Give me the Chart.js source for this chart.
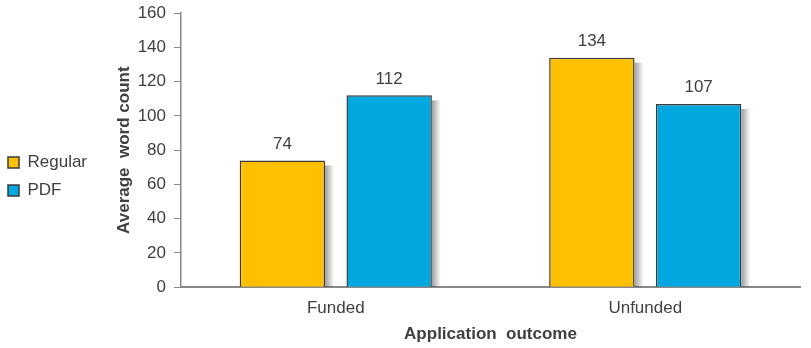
<!DOCTYPE html>
<html>
<head>
<meta charset="utf-8">
<script src="https://cdn.jsdelivr.net/npm/chart.js@4"></script>
<style>
  html, body { margin: 0; padding: 0; background: #fff; }
  #wrap { width: 811px; height: 348px; }
</style>
</head>
<body>
<div id="wrap"><canvas id="chart" width="811" height="348"></canvas></div>
<script>
const outcomes = ["Funded", "Unfunded"];
const regular = [74, 134];
const pdf = [112, 107];
const yTicks = [0, 20, 40, 60, 80, 100, 120, 140, 160];

const textColor = "#404040";
const fontFamily = "'Liberation Sans', Arial, sans-serif";

// soft shadow on the right side of the bars, drawn under them
const barShadow = {
    id: "barShadow",
    beforeDatasetsDraw(chart) {
        const ctx = chart.ctx;
        ctx.save();
        chart.data.datasets.forEach((ds, i) => {
            chart.getDatasetMeta(i).data.forEach(bar => {
                const right = bar.x + bar.width / 2;
                const g = ctx.createLinearGradient(right, 0, right + 9, 0);
                g.addColorStop(0, "rgba(0,0,0,0.38)");
                g.addColorStop(1, "rgba(0,0,0,0)");
                ctx.fillStyle = g;
                ctx.fillRect(right, bar.y + 5, 9, bar.base - bar.y - 5);
            });
        });
        ctx.restore();
    }
};

// values above the bars
const valueLabels = {
    id: "valueLabels",
    afterDatasetsDraw(chart) {
        const ctx = chart.ctx;
        ctx.save();
        ctx.font = "17px " + fontFamily;
        ctx.fillStyle = textColor;
        ctx.textAlign = "center";
        ctx.textBaseline = "bottom";
        chart.data.datasets.forEach((ds, i) => {
            chart.getDatasetMeta(i).data.forEach((bar, j) => {
                ctx.fillText(ds.data[j], bar.x, bar.y - 8);
            });
        });
        ctx.restore();
    }
};

new Chart(document.getElementById("chart").getContext("2d"), {
    type: "bar",
    data: {
        labels: outcomes,
        datasets: [{
            label: "Regular",
            data: regular,
            backgroundColor: "#FFC000",
            borderColor: "#3a3a3a",
            borderWidth: 1.5,
        }, {
            label: "PDF",
            data: pdf,
            backgroundColor: "#00A8E0",
            borderColor: "#3a3a3a",
            borderWidth: 1.5,
        }],
    },
    options: {
        responsive: false,
        animation: false,
        layout: { autoPadding: false, padding: { top: 13, right: 11, left: -3, bottom: 8 } },
        datasets: { bar: { categoryPercentage: 0.69, barPercentage: 0.8 } },
        plugins: {
            legend: {
                position: "left",
                labels: {
                    boxWidth: 11,
                    boxHeight: 11,
                    padding: 11,
                    color: textColor,
                    font: { family: fontFamily, size: 17 },
                },
            },
            tooltip: { enabled: false },
        },
        scales: {
            x: {
                grid: { display: false },
                border: { color: "#888888", width: 2 },
                ticks: { color: textColor, font: { family: fontFamily, size: 17 }, padding: 3 },
                title: {
                    display: true,
                    text: "Application  outcome",
                    color: textColor,
                    font: { family: fontFamily, size: 17, weight: "bold" },
                    padding: { top: 3, bottom: -5 },
                },
            },
            y: {
                min: 0,
                max: 160,
                afterBuildTicks(scale) {
                    scale.ticks = yTicks.map(v => ({ value: v }));
                },
                afterFit(scale) {
                    scale.width = 84;
                },
                grid: { drawOnChartArea: false, drawTicks: true, tickLength: 7, color: "#888888" },
                border: { color: "#888888", width: 1.5 },
                ticks: { color: textColor, font: { family: fontFamily, size: 17, lineHeight: 0.6 }, padding: 8 },
                title: {
                    display: true,
                    text: "Average  word count",
                    color: textColor,
                    font: { family: fontFamily, size: 17, weight: "bold" },
                    padding: { top: 17, bottom: 0 },
                },
            },
        },
    },
    plugins: [barShadow, valueLabels],
});
</script>
</body>
</html>
